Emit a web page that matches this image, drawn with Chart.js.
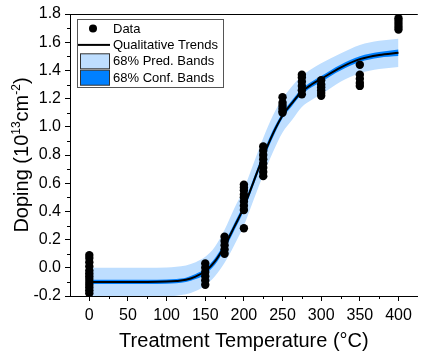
<!DOCTYPE html>
<html>
<head>
<meta charset="utf-8">
<script src="https://cdn.jsdelivr.net/npm/chart.js@4.4.1/dist/chart.umd.min.js"></script>
<style>
  html, body { margin: 0; padding: 0; background: #fff; overflow: hidden; }
  #wrap { width: 422px; height: 352px; position: relative; }
</style>
</head>
<body>
<div id="wrap"><canvas id="c" width="422" height="352"></canvas></div>
<script>
// Measured doping after each treatment temperature
const dataTemps = [
  0, 0, 0, 0, 0, 0, 0, 0, 0, 0, 0, 0, 0,
  150, 150, 150, 150, 150, 150,
  175, 175, 175, 175, 175,
  200, 200, 200, 200, 200, 200, 200, 200, 200,
  225, 225, 225, 225, 225, 225, 225, 225,
  250, 250, 250, 250, 250, 250,
  275, 275, 275, 275, 275, 275,
  300, 300, 300, 300, 300, 300,
  350, 350, 350, 350, 350,
  400, 400, 400, 400, 400
];
const dataDoping = [
  0.09, 0.07, 0.04, 0.01, -0.02, -0.04, -0.06, -0.08, -0.10, -0.12, -0.14, -0.16, -0.18,
  0.03, 0.00, -0.03, -0.06, -0.09, -0.12,
  0.22, 0.19, 0.16, 0.13, 0.10,
  0.59, 0.57, 0.55, 0.52, 0.50, 0.47, 0.44, 0.41, 0.28,
  0.86, 0.83, 0.80, 0.77, 0.74, 0.71, 0.68, 0.65,
  1.21, 1.17, 1.15, 1.13, 1.11, 1.10,
  1.37, 1.35, 1.32, 1.29, 1.26, 1.23,
  1.33, 1.30, 1.28, 1.26, 1.24, 1.22,
  1.44, 1.37, 1.34, 1.31, 1.29,
  1.77, 1.75, 1.73, 1.71, 1.69
];

// Trend curve and its bands
const curveTemps  = [0, 25, 50, 75, 100, 112.5, 125, 137.5, 150, 162.5, 175, 187.5, 200, 212.5, 225, 237.5, 250, 262.5, 275, 287.5, 300, 325, 350, 375, 400];
const trendDoping = [-0.10, -0.10, -0.10, -0.10, -0.098, -0.094, -0.085, -0.062, -0.025, 0.045, 0.155, 0.29, 0.43, 0.61, 0.79, 0.95, 1.08, 1.17, 1.25, 1.30, 1.34, 1.42, 1.48, 1.51, 1.525];
const predUpper   = [0.00, 0.00, 0.00, 0.00, 0.002, 0.007, 0.017, 0.04, 0.078, 0.15, 0.27, 0.42, 0.56, 0.74, 0.92, 1.08, 1.20, 1.29, 1.36, 1.41, 1.45, 1.52, 1.58, 1.61, 1.625];
const predLower   = [-0.205, -0.205, -0.205, -0.205, -0.203, -0.198, -0.188, -0.165, -0.125, -0.06, 0.035, 0.16, 0.30, 0.48, 0.66, 0.82, 0.96, 1.05, 1.14, 1.19, 1.23, 1.32, 1.38, 1.41, 1.425];
const confUpper   = [-0.085, -0.085, -0.085, -0.085, -0.083, -0.079, -0.07, -0.044, -0.005, 0.068, 0.18, 0.315, 0.455, 0.635, 0.815, 0.975, 1.10, 1.19, 1.27, 1.32, 1.36, 1.44, 1.50, 1.53, 1.548];
const confLower   = [-0.115, -0.115, -0.115, -0.115, -0.113, -0.109, -0.10, -0.08, -0.045, 0.022, 0.13, 0.265, 0.405, 0.585, 0.765, 0.925, 1.06, 1.15, 1.23, 1.28, 1.32, 1.40, 1.46, 1.49, 1.502];

// Axis ticks
const xTickValues = [0, 50, 100, 150, 200, 250, 300, 350, 400];
const xTickLabels = ['0', '50', '100', '150', '200', '250', '300', '350', '400'];
const xMinorTicks = [25, 75, 125, 175, 225, 275, 325, 375];
const yTickValues = [-0.2, 0.0, 0.2, 0.4, 0.6, 0.8, 1.0, 1.2, 1.4, 1.6, 1.8];
const yTickLabels = ['-0.2', '0.0', '0.2', '0.4', '0.6', '0.8', '1.0', '1.2', '1.4', '1.6', '1.8'];
const yMinorTicks = [-0.1, 0.1, 0.3, 0.5, 0.7, 0.9, 1.1, 1.3, 1.5, 1.7];

const FONT = '"Liberation Sans", Arial, sans-serif';
const PRED_COLOR = 'rgb(190, 222, 255)';
const CONF_COLOR = 'rgb(0, 128, 255)';

const toXY = (xs, ys) => xs.map((x, i) => ({ x: x, y: ys[i] }));

// Minor ticks, top frame line, custom legend and the y-axis title with superscripts
const decorations = {
  id: 'decorations',
  afterDraw(chart) {
    const ctx = chart.ctx;
    const area = chart.chartArea;
    const xs = chart.scales.x, ys = chart.scales.y;
    ctx.save();
    ctx.strokeStyle = '#000';
    ctx.lineWidth = 1;
    ctx.beginPath();
    ctx.moveTo(area.left, Math.round(area.top) + 0.5);
    ctx.lineTo(area.right, Math.round(area.top) + 0.5);
    xMinorTicks.forEach(v => {
      const px = Math.round(xs.getPixelForValue(v)) + 0.5;
      ctx.moveTo(px, area.bottom);
      ctx.lineTo(px, area.bottom + 3);
    });
    yMinorTicks.forEach(v => {
      const py = Math.round(ys.getPixelForValue(v)) + 0.5;
      ctx.moveTo(area.left, py);
      ctx.lineTo(area.left - 3, py);
    });
    ctx.stroke();

    // legend
    const lx = area.left + 7, ly = area.top + 5, lw = 146, lh = 68;
    ctx.fillStyle = '#fff';
    ctx.fillRect(lx, ly, lw, lh);
    ctx.strokeStyle = '#555';
    ctx.strokeRect(lx + 0.5, ly + 0.5, lw, lh);
    const ds = chart.data.datasets;
    const rows = [
      { label: ds[5].label, kind: 'point' },
      { label: ds[4].label, kind: 'line' },
      { label: ds[0].label, kind: 'box', color: PRED_COLOR },
      { label: ds[2].label, kind: 'box', color: CONF_COLOR }
    ];
    ctx.font = '13px ' + FONT;
    ctx.textBaseline = 'middle';
    rows.forEach((r, i) => {
      const cy = ly + 9.5 + i * 16.4;
      if (r.kind === 'point') {
        ctx.fillStyle = '#000';
        ctx.beginPath();
        ctx.arc(lx + 16, cy, 4, 0, Math.PI * 2);
        ctx.fill();
      } else if (r.kind === 'line') {
        ctx.strokeStyle = '#000';
        ctx.lineWidth = 2;
        ctx.beginPath();
        ctx.moveTo(lx + 1, cy);
        ctx.lineTo(lx + 33, cy);
        ctx.stroke();
      } else {
        ctx.fillStyle = r.color;
        ctx.fillRect(lx + 3, cy - 7.5, 30, 15);
        ctx.strokeStyle = '#333';
        ctx.lineWidth = 1;
        ctx.strokeRect(lx + 3.5, cy - 7.5, 29, 15);
      }
      ctx.fillStyle = '#000';
      ctx.fillText(r.label, lx + 36, cy + 0.5);
    });

    // y-axis title
    const parts = [
      { t: 'Doping (10', s: 20, dy: 0 },
      { t: '13', s: 12, dy: -8 },
      { t: 'cm', s: 20, dy: 0 },
      { t: '-2', s: 12, dy: -8 },
      { t: ')', s: 20, dy: 0 }
    ];
    let total = 0;
    parts.forEach(p => { ctx.font = p.s + 'px ' + FONT; p.w = ctx.measureText(p.t).width; total += p.w; });
    ctx.translate(28, (area.top + area.bottom) / 2);
    ctx.rotate(-Math.PI / 2);
    ctx.fillStyle = '#000';
    ctx.textBaseline = 'alphabetic';
    let cx = -total / 2;
    parts.forEach(p => {
      ctx.font = p.s + 'px ' + FONT;
      ctx.fillText(p.t, cx, p.dy);
      cx += p.w;
    });
    ctx.restore();
  }
};

new Chart(document.getElementById('c'), {
  type: 'scatter',
  data: {
    datasets: [
      {
        label: '68% Pred. Bands',
        type: 'line',
        data: toXY(curveTemps, predUpper),
        borderWidth: 0, borderColor: 'transparent', pointRadius: 0,
        backgroundColor: PRED_COLOR, fill: '+1',
        cubicInterpolationMode: 'monotone', order: 5
      },
      {
        label: 'pred-lower',
        type: 'line',
        data: toXY(curveTemps, predLower),
        borderWidth: 0, borderColor: 'transparent', pointRadius: 0,
        fill: false, cubicInterpolationMode: 'monotone', order: 5
      },
      {
        label: '68% Conf. Bands',
        type: 'line',
        data: toXY(curveTemps, confUpper),
        borderWidth: 0, borderColor: 'transparent', pointRadius: 0,
        backgroundColor: CONF_COLOR, fill: '+1',
        cubicInterpolationMode: 'monotone', order: 4
      },
      {
        label: 'conf-lower',
        type: 'line',
        data: toXY(curveTemps, confLower),
        borderWidth: 0, borderColor: 'transparent', pointRadius: 0,
        fill: false, cubicInterpolationMode: 'monotone', order: 4
      },
      {
        label: 'Qualitative Trends',
        type: 'line',
        data: toXY(curveTemps, trendDoping),
        borderColor: '#000', borderWidth: 2, pointRadius: 0,
        fill: false, cubicInterpolationMode: 'monotone', order: 2
      },
      {
        label: 'Data',
        data: toXY(dataTemps, dataDoping),
        backgroundColor: '#000', borderColor: '#000',
        pointRadius: 4.2, pointHoverRadius: 4.2, borderWidth: 0, order: 1
      }
    ]
  },
  options: {
    responsive: false,
    animation: false,
    devicePixelRatio: 1,
    layout: { padding: { top: 14, right: 0, left: 0, bottom: 0 } },
    plugins: { legend: { display: false }, tooltip: { enabled: false } },
    scales: {
      x: {
        type: 'linear', min: -25, max: 425,
        afterBuildTicks: s => { s.ticks = xTickValues.map(v => ({ value: v })); },
        afterFit: s => { s.height = 56; },
        ticks: {
          color: '#000', font: { family: FONT, size: 16 }, padding: 5,
          maxRotation: 0, autoSkip: false,
          callback: (v, i) => xTickLabels[i]
        },
        grid: { drawOnChartArea: false, tickLength: 5, tickColor: '#000', tickWidth: 1 },
        border: { display: true, color: '#000', width: 1 },
        title: {
          display: true, text: 'Treatment Temperature (°C)', color: '#000',
          font: { family: FONT, size: 20 }, padding: { top: 0, bottom: -1 }
        }
      },
      y: {
        type: 'linear', min: -0.2, max: 1.8,
        afterBuildTicks: s => { s.ticks = yTickValues.map(v => ({ value: v })); },
        afterFit: s => { s.width = 70; },
        ticks: {
          color: '#000', font: { family: FONT, size: 16 }, padding: 4,
          autoSkip: false,
          callback: (v, i) => yTickLabels[i]
        },
        grid: { drawOnChartArea: false, tickLength: 5, tickColor: '#000', tickWidth: 1 },
        border: { display: true, color: '#000', width: 1 }
      }
    }
  },
  plugins: [decorations]
});
</script>
</body>
</html>
